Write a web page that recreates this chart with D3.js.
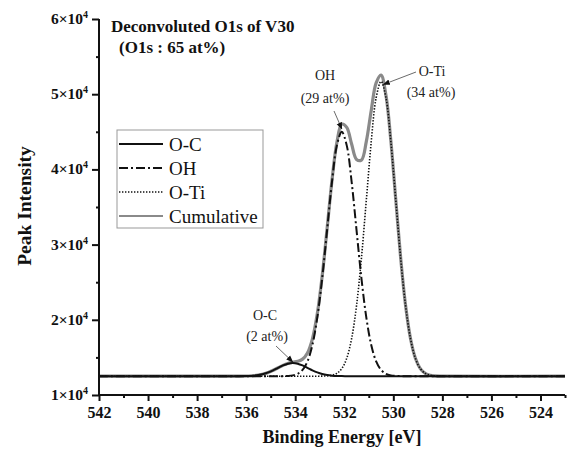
<!DOCTYPE html>
<html>
<head>
<meta charset="utf-8">
<script src="https://cdn.jsdelivr.net/npm/d3@7"></script>
<style>
  body { margin: 0; background: #fff; }
  svg { display: block; font-family: "Liberation Serif", "Times New Roman", serif; }
</style>
</head>
<body>
<svg id="chart" width="571" height="452"></svg>
<script>
// binding energy grid (eV)
const energy = [542, 536.5, 536.3, 536.1, 535.9, 535.7, 535.5, 535.3, 535.1, 534.9, 534.7,
    534.5, 534.3, 534.1, 533.9, 533.7, 533.5, 533.3, 533.1, 532.9, 532.7,
    532.5, 532.3, 532.1, 531.9, 531.7, 531.5, 531.3, 531.1, 530.9, 530.7,
    530.5, 530.3, 530.1, 529.9, 529.7, 529.5, 529.3, 529.1, 528.9, 528.7,
    528.5, 528.3, 528.1, 523];

const oc = [12500, 12501, 12504, 12512, 12530, 12571, 12651, 12789, 13001, 13286, 13616,
    13933, 14165, 14250, 14165, 13933, 13616, 13286, 13001, 12789, 12651,
    12571, 12530, 12512, 12504, 12501, 12500, 12500, 12500, 12500, 12500,
    12500, 12500, 12500, 12500, 12500, 12500, 12500, 12500, 12500, 12500,
    12500, 12500, 12500, 12500];

const oh = [12500, 12500, 12500, 12500, 12500, 12500, 12500, 12500, 12500, 12500, 12502,
    12509, 12532, 12607, 12818, 13339, 14476, 16654, 20289, 25526, 31932,
    38359, 43195, 45000, 43195, 38359, 31932, 25526, 20289, 16654, 14476,
    13339, 12818, 12607, 12532, 12509, 12502, 12500, 12500, 12500, 12500,
    12500, 12500, 12500, 12500];

const oti = [12500, 12500, 12500, 12500, 12500, 12500, 12500, 12500, 12500, 12500, 12500,
    12500, 12500, 12500, 12500, 12500, 12500, 12500, 12502, 12510, 12539,
    12629, 12883, 13512, 14884, 17511, 21894, 28211, 35938, 43690, 49523,
    51700, 49523, 43690, 35938, 28211, 21894, 17511, 14884, 13512, 12883,
    12629, 12539, 12510, 12500];

const cumulative = [12500, 12501, 12504, 12512, 12530, 12571, 12651, 12789, 13001, 13286, 13618,
    13942, 14197, 14357, 14483, 14772, 15592, 17440, 20792, 25825, 32122,
    38559, 43608, 46024, 45583, 43371, 41326, 41237, 43727, 47844, 51499,
    52539, 49841, 43797, 35970, 28220, 21896, 17511, 14884, 13512, 12883,
    12629, 12539, 12510, 12500];

const xTicks = [542, 540, 538, 536, 534, 532, 530, 528, 526, 524];
const xMinorTicks = [541, 539, 537, 535, 533, 531, 529, 527, 525, 523];
const yTicks = [10000, 20000, 30000, 40000, 50000, 60000];
const yMinorTicks = [15000, 25000, 35000, 45000, 55000];

const seriesNames = ['O-C', 'OH', 'O-Ti', 'Cumulative'];

const annotations = [
    { name: 'OH', pct: '(29 at%)', tipX: 532.1, tipY: 45400 },
    { name: 'O-Ti', pct: '(34 at%)', tipX: 530.4, tipY: 51300 },
    { name: 'O-C', pct: '(2 at%)', tipX: 534.1, tipY: 14400 }
];

const margin = { top: 19, right: 6, bottom: 57, left: 99 };
const width = 571 - margin.left - margin.right;
const height = 452 - margin.top - margin.bottom;

const svg = d3.select('#chart');
const chart = svg.append('g').attr('transform', `translate(${margin.left},${margin.top})`);

const x = d3.scaleLinear().domain([542, 523]).range([0, width]);
const y = d3.scaleLinear().domain([10000, 60000]).range([height, 0]);

// curves
const rows = energy.map((e, i) => ({ e, oc: oc[i], oh: oh[i], oti: oti[i], cum: cumulative[i] }));
const lineFor = (key) => d3.line().x((d) => x(d.e)).y((d) => y(d[key])).curve(d3.curveCatmullRom);

const styles = {
    cum: { stroke: '#8a8a8a', width: 3.2, dash: null },
    oc: { stroke: '#111', width: 2, dash: null },
    oh: { stroke: '#111', width: 2, dash: '9,3,2,3' },
    oti: { stroke: '#111', width: 1.6, dash: '1.4,1.6' }
};

['cum', 'oti', 'oh', 'oc'].forEach((key) => {
    chart.append('path')
        .datum(rows)
        .attr('fill', 'none')
        .attr('stroke', styles[key].stroke)
        .attr('stroke-width', styles[key].width)
        .attr('stroke-dasharray', styles[key].dash)
        .attr('d', lineFor(key));
});

// axes
const xAxis = chart.append('g')
    .attr('transform', `translate(0,${height})`)
    .call(d3.axisBottom(x).tickValues(xTicks).tickFormat(d3.format('d')).tickSize(6).tickPadding(6));
chart.append('g')
    .attr('transform', `translate(0,${height})`)
    .call(d3.axisBottom(x).tickValues(xMinorTicks).tickFormat('').tickSize(3))
    .call((g) => g.select('.domain').remove());

chart.append('g')
    .call(d3.axisLeft(y).tickValues(yTicks).tickFormat('').tickSize(7));
chart.append('g')
    .call(d3.axisLeft(y).tickValues(yMinorTicks).tickFormat('').tickSize(3))
    .call((g) => g.select('.domain').remove());

chart.selectAll('.tick line').attr('stroke', '#111').attr('stroke-width', 2);
chart.selectAll('.domain').remove();
chart.append('line').attr('x1', 0).attr('x2', width).attr('y1', height).attr('y2', height)
    .attr('stroke', '#111').attr('stroke-width', 2);
chart.append('line').attr('x1', 0).attr('x2', 0).attr('y1', 0).attr('y2', height)
    .attr('stroke', '#111').attr('stroke-width', 2);

xAxis.selectAll('text')
    .attr('font-family', '"Liberation Serif", serif')
    .attr('font-weight', 'bold')
    .attr('font-size', 16)
    .attr('fill', '#111');

// y tick labels with superscript exponent
yTicks.forEach((v) => {
    const t = chart.append('text')
        .attr('x', -11)
        .attr('y', y(v) + 5)
        .attr('text-anchor', 'end')
        .attr('font-weight', 'bold')
        .attr('font-size', 15.5)
        .attr('fill', '#111');
    t.append('tspan').text(`${v / 10000}×10`);
    t.append('tspan').attr('dy', -6).attr('font-size', 10).text('4');
});

// axis titles
svg.append('text')
    .attr('x', 342)
    .attr('y', 443)
    .attr('text-anchor', 'middle')
    .attr('font-weight', 'bold')
    .attr('font-size', 18)
    .attr('fill', '#111')
    .text('Binding Energy [eV]');

svg.append('text')
    .attr('transform', 'translate(31,206) rotate(-90)')
    .attr('text-anchor', 'middle')
    .attr('font-weight', 'bold')
    .attr('font-size', 19.5)
    .attr('fill', '#111')
    .text('Peak Intensity');

// title
svg.append('text').attr('x', 111).attr('y', 32)
    .attr('font-weight', 'bold').attr('font-size', 17).attr('fill', '#111')
    .text('Deconvoluted O1s of V30');
svg.append('text').attr('x', 119).attr('y', 53)
    .attr('font-weight', 'bold').attr('font-size', 17).attr('fill', '#111')
    .text('(O1s : 65 at%)');

// legend
const legend = svg.append('g').attr('transform', 'translate(117,130)');
legend.append('rect').attr('width', 146).attr('height', 98)
    .attr('fill', '#fff').attr('stroke', '#999').attr('stroke-width', 1);
const legendKeys = ['oc', 'oh', 'oti', 'cum'];
seriesNames.forEach((name, i) => {
    const st = styles[legendKeys[i]];
    const ly = 14 + i * 24;
    legend.append('line').attr('x1', 2).attr('x2', 46).attr('y1', ly).attr('y2', ly)
        .attr('stroke', st.stroke).attr('stroke-width', legendKeys[i] === 'cum' ? 2.2 : st.width)
        .attr('stroke-dasharray', st.dash);
    legend.append('text').attr('x', 52).attr('y', ly + 6.5)
        .attr('font-size', 19).attr('fill', '#111').text(name);
});

// annotations
svg.append('defs').append('marker')
    .attr('id', 'arrow').attr('viewBox', '0 0 10 10').attr('refX', 9).attr('refY', 5)
    .attr('markerWidth', 7).attr('markerHeight', 7).attr('orient', 'auto-start-reverse')
    .attr('markerUnits', 'userSpaceOnUse')
    .append('path').attr('d', 'M0,1L10,5L0,9z').attr('fill', '#111');

const annPos = {
    'OH': { tx: 325, ty: 80, px: 325, py: 103, ax1: 334, ay1: 111 },
    'O-Ti': { tx: 432, ty: 76, px: 431, py: 97, ax1: 416, ay1: 72 },
    'O-C': { tx: 265, ty: 320, px: 267, py: 341, ax1: 276, ay1: 346 }
};
annotations.forEach((a) => {
    const p = annPos[a.name];
    svg.append('text').attr('x', p.tx).attr('y', p.ty).attr('text-anchor', 'middle')
        .attr('font-size', 14).attr('fill', '#222').text(a.name);
    svg.append('text').attr('x', p.px).attr('y', p.py).attr('text-anchor', 'middle')
        .attr('font-size', 14).attr('fill', '#222').text(a.pct);
    svg.append('line')
        .attr('x1', p.ax1).attr('y1', p.ay1)
        .attr('x2', margin.left + x(a.tipX)).attr('y2', margin.top + y(a.tipY))
        .attr('stroke', '#444').attr('stroke-width', 0.8)
        .attr('marker-end', 'url(#arrow)');
});
</script>
</body>
</html>
